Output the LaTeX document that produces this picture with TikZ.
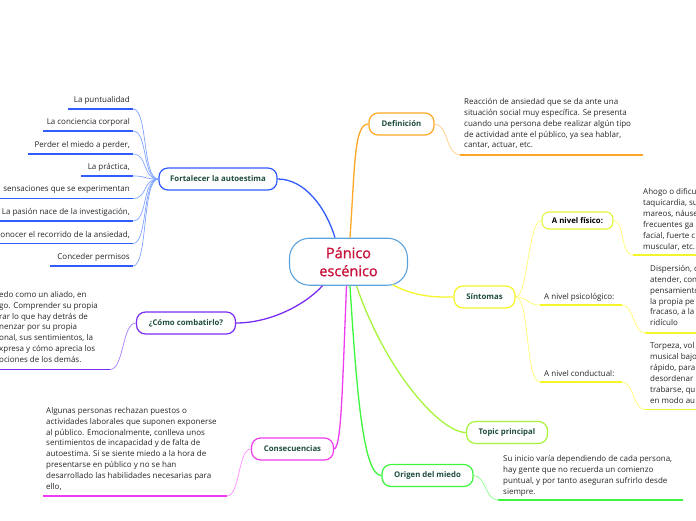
\documentclass[tikz,border=0pt]{standalone}
\usepackage{fontspec}
\usetikzlibrary{calc}
\setmainfont{Open Sans}
\newfontfamily\centerfont[FakeBold=1.2]{Open Sans}
\definecolor{hd}{HTML}{1E4D3B}
\definecolor{tx}{HTML}{262626}
\definecolor{cr}{HTML}{C8143C}
\definecolor{cb}{HTML}{5BA3DC}
\definecolor{blueM}{HTML}{2F5BFF}
\definecolor{blueS}{HTML}{7FA3FF}
\definecolor{oraM}{HTML}{FFA726}
\definecolor{oraS}{HTML}{FFCC80}
\definecolor{yelM}{HTML}{F5F52A}
\definecolor{yelS}{HTML}{FFFF70}
\definecolor{yelB}{HTML}{E2F53A}
\definecolor{purM}{HTML}{7B2CF5}
\definecolor{purS}{HTML}{A97BFF}
\definecolor{magM}{HTML}{F03CF0}
\definecolor{magS}{HTML}{FF8CFF}
\definecolor{limM}{HTML}{A6F53C}
\definecolor{grnM}{HTML}{3CF53C}
\definecolor{grnS}{HTML}{8CFF8C}
\begin{document}
\begin{tikzpicture}[x=1pt,y=-1pt,
  topic/.style={draw, rounded corners=9pt, line width=1.2pt, fill=white, inner sep=0pt,
     minimum height=22pt, font=\fontsize{7.8}{9}\selectfont\bfseries, text=hd},
  body/.style={inner sep=0pt, align=left, font=\fontsize{8}{10.9}\selectfont, text=tx, anchor=north west},
  item/.style={inner sep=0pt, font=\fontsize{8}{9}\selectfont, text=tx},
  mainline/.style={line width=1.3pt},
  subline/.style={line width=0.7pt},
  uline/.style={line width=1.8pt}]
\useasboundingbox (0,0) rectangle (696,520);

% central node
\node[draw=cb, line width=1.1pt, rounded corners=20pt, fill=white, minimum width=118pt,
  minimum height=47pt, align=center, inner sep=0pt, font=\centerfont\fontsize{14.5}{18}\selectfont, text=cr]
  (c) at (348.5,261.7) {Pánico\\escénico};

% main topics
\node[topic, draw=blueM, minimum width=118pt] (fort) at (218,179) {Fortalecer la autoestima};
\node[topic, draw=oraM, minimum width=65pt] (def) at (401.5,124) {Definición};
\node[topic, draw=yelM, minimum width=61pt] (sin) at (484.5,297) {Síntomas};
\node[topic, draw=purM, minimum width=99pt] (com) at (186,323) {¿Cómo combatirlo?};
\node[topic, draw=magM, minimum width=82pt] (con) at (292.5,449) {Consecuencias};
\node[topic, draw=limM, minimum width=81pt] (top) at (507,432.5) {Topic principal};
\node[topic, draw=grnM, minimum width=91pt] (ori) at (427.5,475.5) {Origen del miedo};

% main connectors
\draw[mainline, blueM] (fort.east) .. controls (305,179) and (326,208) .. ([xshift=-13.5pt]c.north);
\draw[mainline, oraM] ([xshift=1.5pt]c.north) .. controls (355,165) and (354,124) .. (def.west);
\draw[mainline, yelM] ([xshift=44pt,yshift=1pt]c.south) .. controls (418,298) and (438,297) .. (sin.west);
\draw[mainline, purM] ([xshift=-26pt]c.south) .. controls (305,305) and (270,323) .. (com.east);
\draw[mainline, magM] ([xshift=-2pt]c.south) .. controls (342,400) and (341,447) .. (con.east);
\draw[mainline, limM] ([xshift=8pt]c.south) .. controls (385,370) and (440,432.5) .. (top.west);
\draw[mainline, grnM] ([xshift=1.5pt]c.south) .. controls (357,400) and (364,475.5) .. (ori.west);

% Fortalecer items
\node[item, anchor=east] (f1) at (130,100) {La puntualidad};
\node[item, anchor=east] (f2) at (130,122) {La conciencia corporal};
\node[item, anchor=east] (f3) at (130,145.5) {Perder el miedo a perder,};
\node[item, anchor=east] (f4) at (130,167) {La práctica,};
\node[item, anchor=east] (f5) at (130,190) {sensaciones que se experimentan};
\node[item, anchor=east] (f6) at (130,212) {La pasión nace de la investigación,};
\node[item, anchor=east] (f7) at (130,235) {onocer el recorrido de la ansiedad,};
\node[item, anchor=east] (f8) at (130,257) {Conceder permisos};
\coordinate (f1a) at (68,109);  \coordinate (f1b) at (133,109);
\coordinate (f2a) at (43,131);  \coordinate (f2b) at (133,131);
\coordinate (f3a) at (28,154);  \coordinate (f3b) at (133,154);
\coordinate (f4a) at (81,176);  \coordinate (f4b) at (133,176);
\coordinate (f5a) at (0,198.5); \coordinate (f5b) at (133,198.5);
\coordinate (f6a) at (0,221);   \coordinate (f6b) at (133,221);
\coordinate (f7a) at (0,243.5); \coordinate (f7b) at (133,243.5);
\coordinate (f8a) at (50,266);  \coordinate (f8b) at (133,266);
\foreach \i in {1,...,8} {
  \draw[uline, blueM] (f\i a) -- (f\i b);
  \draw[subline, blueS] (f\i b) .. controls ($(f\i b)+(15,0)$) and (142,179) .. (fort.west);
}

% Definicion
\node[body] (dt) at (464,98) {Reacción de ansiedad que se da ante una\\
situación social muy específica. Se presenta\\
cuando una persona debe realizar algún tipo\\
de actividad ante el público, ya sea hablar,\\
cantar, actuar, etc.};
\coordinate (da) at (460,155); \coordinate (db) at (643,155);
\draw[uline, oraM] (da) -- (db);
\draw[subline, oraS] (def.east) .. controls (448,124) and (446,155) .. (da);

% Sintomas
\node[draw=yelB, line width=1.1pt, rounded corners=7pt, fill=white, inner sep=0pt,
  minimum width=71pt, minimum height=17pt, font=\fontsize{7.8}{9}\selectfont\bfseries, text=black]
  (fis) at (577.5,220.5) {A nivel físico:};
\node[item, anchor=west] (psi) at (544,297) {A nivel psicológico:};
\node[item, anchor=west] (cnd) at (544,374) {A nivel conductual:};
\coordinate (pa) at (540,305); \coordinate (pb) at (622,305);
\coordinate (ca) at (540,382); \coordinate (cb2) at (622,382);
\draw[uline, yelM] (pa) -- (pb);
\draw[uline, yelM] (ca) -- (cb2);
\draw[subline, yelS] (sin.east) .. controls (528,297) and (528,220.5) .. (fis.west);
\draw[subline, yelS] (sin.east) .. controls (528,297) and (527,305) .. (pa);
\draw[subline, yelS] (sin.east) .. controls (530,297) and (525,382) .. (ca);

\node[body] (fist) at (643,188.5) {Ahogo o dificu\\taquicardia, su\\mareos, náuse\\frecuentes ga\\facial, fuerte c\\muscular, etc.};
\coordinate (fa) at (633,255); \coordinate (fb) at (696,255);
\draw[uline, yelM] (fa) -- (fb);
\draw[subline, yelS] (fis.east) .. controls (625,220.5) and (620,255) .. (fa);

\node[body] (psit) at (650,265) {Dispersión, d\\atender, con\\pensamiento\\la propia pe\\fracaso, a la\\ridículo};
\coordinate (qa) at (645,333); \coordinate (qb) at (696,333);
\draw[uline, yelM] (qa) -- (qb);
\draw[subline, yelS] (pb) .. controls (634,305) and (633,333) .. (qa);

\node[body] (cndt) at (650,342.5) {Torpeza, vol\\musical bajo\\rápido, para\\desordenar\\trabarse, qu\\en modo au};
\coordinate (ra) at (645,409.5); \coordinate (rb) at (696,409.5);
\draw[uline, yelM] (ra) -- (rb);
\draw[subline, yelS] (cb2) .. controls (634,382) and (633,409.5) .. (ra);

% Como combatirlo
\node[body] (comt) at (-1,291) {edo como un aliado, en\\go. Comprender su propia\\rar lo que hay detrás de\\nenzar por su propia\\onal, sus sentimientos, la\\xpresa y cómo aprecia los\\ociones de los demás.};
\coordinate (ma) at (0,369.5); \coordinate (mb) at (110,369.5);
\draw[uline, purM] (ma) -- (mb);
\draw[subline, purS] (mb) .. controls (124,369.5) and (122,323) .. (com.west);

% Consecuencias
\node[body] (cont) at (46,407) {Algunas personas rechazan puestos o\\
actividades laborales que suponen exponerse\\
al público. Emocionalmente, conlleva unos\\
sentimientos de incapacidad y de falta de\\
autoestima. Si se siente miedo a la hora de\\
presentarse en público y no se han\\
desarrollado las habilidades necesarias para\\
ello,};
\coordinate (ka) at (43,496); \coordinate (kb) at (227,496);
\draw[uline, magM] (ka) -- (kb);
\draw[subline, magS] (kb) .. controls (240,496) and (238,449) .. (con.west);

% Origen del miedo
\node[body] (orit) at (503,455) {Su inicio varía dependiendo de cada persona,\\
hay gente que no recuerda un comienzo\\
puntual, y por tanto aseguran sufrirlo desde\\
siempre.};
\coordinate (oa) at (498,500); \coordinate (ob) at (683,500);
\draw[uline, grnM] (oa) -- (ob);
\draw[subline, grnS] (ori.east) .. controls (486,475.5) and (485,500) .. (oa);
\end{tikzpicture}
\end{document}
